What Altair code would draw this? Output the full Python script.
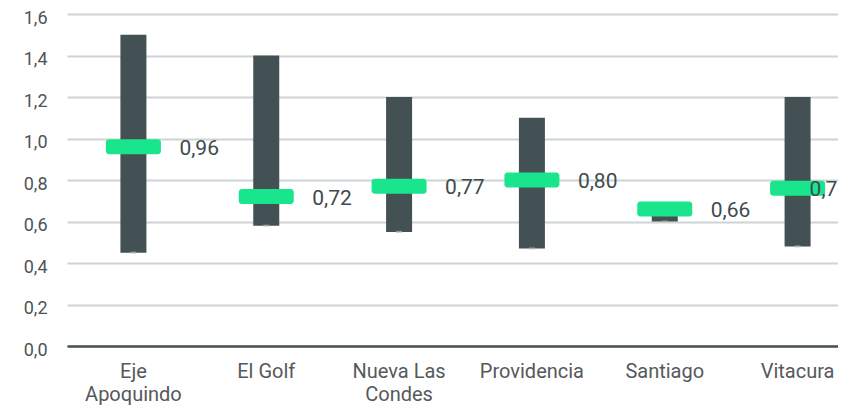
import altair as alt
import pandas as pd

categories = ["Eje Apoquindo", "El Golf", "Nueva Las Condes", "Providencia", "Santiago", "Vitacura"]
min_vals = [0.45, 0.58, 0.55, 0.47, 0.60, 0.48]
max_vals = [1.50, 1.40, 1.20, 1.10, 0.65, 1.20]
avg_vals = [0.96, 0.72, 0.77, 0.80, 0.66, 0.76]

df = pd.DataFrame({
    "cat": categories,
    "min": min_vals,
    "max": max_vals,
    "avg": avg_vals,
})
df["label"] = [f"{v:.2f}".replace(".", ",") for v in avg_vals]

FONT = "Roboto"

x_enc = alt.X(
    "cat:N",
    sort=categories,
    title=None,
    scale=alt.Scale(range=[0, 797], paddingInner=0, paddingOuter=0),
    axis=alt.Axis(
        labelAngle=0,
        ticks=False,
        labelPadding=15,
        labelFontSize=20,
        labelFont=FONT,
        labelColor="#55595c",
        labelLineHeight=23,
        domainColor="#46524f",
        domainWidth=2.5,
        grid=False,
        labelExpr="datum.label == 'Eje Apoquindo' ? ['Eje', 'Apoquindo'] : datum.label == 'Nueva Las Condes' ? ['Nueva Las', 'Condes'] : datum.label",
    ),
)

y_scale = alt.Scale(domain=[0, 1.6], nice=False)
y_axis = alt.Axis(
    values=[0, 0.2, 0.4, 0.6, 0.8, 1.0, 1.2, 1.4, 1.6],
    labelExpr="replace(format(datum.value, '.1f'), '.', ',')",
    ticks=False,
    domain=False,
    labelPadding=20,
    labelFontSize=18,
    labelFont=FONT,
    labelColor="#4d5356",
    labelOffset=4,
    gridColor="#cdd4d6",
    gridWidth=2,
)

base = alt.Chart(df)

bars = base.mark_bar(size=26, color="#435155").encode(
    x=x_enc,
    y=alt.Y("min:Q", scale=y_scale, axis=y_axis, title=None),
    y2="max:Q",
)

min_ticks = base.mark_tick(size=6, thickness=2, color="#b3b6b7").encode(
    x=alt.X("cat:N", sort=categories),
    y=alt.Y("min:Q"),
)

markers = base.mark_tick(size=55, thickness=15, color="#19e68c", cornerRadius=3, opacity=1).encode(
    x=alt.X("cat:N", sort=categories),
    y=alt.Y("avg:Q"),
)

labels_main = base.transform_filter(alt.datum.cat != "Vitacura").mark_text(
    align="left", baseline="middle", dx=46, dy=2, fontSize=21, font=FONT, color="#3f4a4e"
).encode(
    x=alt.X("cat:N", sort=categories),
    y=alt.Y("avg:Q"),
    text="label:N",
)

labels_last = base.transform_filter(alt.datum.cat == "Vitacura").mark_text(
    align="left", baseline="middle", dx=12, dy=2, fontSize=21, font=FONT, color="#3f4a4e"
).encode(
    x=alt.X("cat:N", sort=categories),
    y=alt.Y("avg:Q"),
    text="label:N",
)

chart = alt.layer(bars, min_ticks, markers, labels_main, labels_last).properties(
    width=771,
    height=332,
    autosize=alt.AutoSizeParams(type="none"),
    padding={"left": 59, "top": 6, "right": 0, "bottom": 59},
).configure_view(stroke=None)

chart.save("out.html", embed_options={"renderer": "svg", "actions": False})
